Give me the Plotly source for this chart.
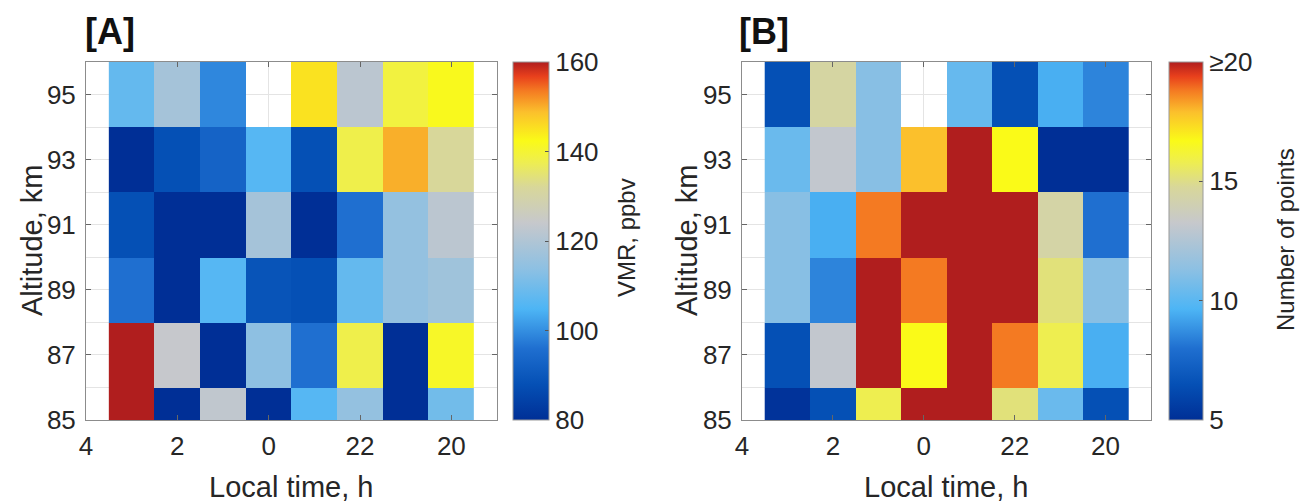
import plotly.graph_objects as go

# ---- data ----
local_time = [3, 2, 1, 0, 23, 22, 21, 20]          # hour of each column (left -> right)
altitude = [85, 87, 89, 91, 93, 95]                 # km, row centres (bottom -> top)

# Panel A: VMR, ppbv  (rows bottom -> top, columns as local_time)
vmr = [
    [160, 80, 123, 80, 106, 115, 80, 110],
    [160, 124, 80, 114, 96, 138, 80, 141],
    [96, 80, 106, 89, 88, 108, 115, 117],
    [88, 80, 80, 118, 80, 96, 115, 122],
    [80, 88, 93, 106, 88, 138, 150, 132],
    [108, 118, 99, None, 145, 122, 139, 142],
]

# Panel B: number of points
npts = [
    [5.2, 6.5, 15.8, 20, 20, 15.2, 10.4, 6.5],
    [6.5, 13.1, 20, 16.7, 20, 18.8, 15.8, 9.5],
    [11.2, 8.5, 20, 18.8, 20, 20, 15.2, 11.2],
    [11.2, 9.5, 18.8, 20, 20, 20, 14.4, 8.0],
    [10.4, 13.1, 11.2, 17.9, 20, 16.7, 5, 5],
    [6.5, 14.5, 11.2, None, 10.3, 6.5, 9.5, 8.5],
]

xtick_hours = [4, 2, 0, 22, 20]
ytick_vals = [85, 87, 89, 91, 93, 95]
vmr_ticks = [80, 100, 120, 140, 160]
npts_ticks = [5, 10, 15, 20]
npts_ticktext = ["5", "10", "15", "\u226520"]

# continuous time axis (after-midnight hours shifted by 24)
def cont(h):
    return h + 24 if h < 12 else h

xc = [cont(h) for h in local_time]
xtv = [cont(h) for h in xtick_hours]

cscale = [
    [0.00, "#002f96"],
    [0.10, "#0550b5"],
    [0.20, "#1f6fd0"],
    [0.31, "#4db5f5"],
    [0.42, "#8cc0e3"],
    [0.55, "#c6c8cc"],
    [0.65, "#d8d79a"],
    [0.72, "#eeee50"],
    [0.78, "#fafa18"],
    [0.86, "#fbc02c"],
    [0.92, "#f47a22"],
    [0.96, "#e8401c"],
    [1.00, "#b01e1e"],
]

W, H = 1310, 504
FONT = "Arial, Liberation Sans, Helvetica, sans-serif"
TXT = "#262626"
TICK = 26
TITLE = 29
CBTITLE = 24

def px(xp):
    return xp / W

def py(yp):
    return 1 - yp / H

top, bot = 62, 420
ydom = [py(bot), py(top)]
lenfrac = (bot - top) / H

fig = go.Figure()

fig.add_trace(go.Heatmap(
    x=xc, y=altitude, z=vmr, zmin=80, zmax=160, colorscale=cscale,
    xaxis="x", yaxis="y", hoverongaps=False,
    colorbar=dict(
        x=px(513), xanchor="left", xref="paper", xpad=0, ypad=0,
        thickness=36, thicknessmode="pixels",
        len=lenfrac, lenmode="fraction", y=ydom[0], yanchor="bottom",
        outlinecolor="#9a9a9a", outlinewidth=1,
        tickvals=vmr_ticks, ticks="inside", ticklen=4, tickcolor="#555555",
        tickfont=dict(family=FONT, size=TICK, color=TXT),
    ),
))

fig.add_trace(go.Heatmap(
    x=xc, y=altitude, z=npts, zmin=5, zmax=20, colorscale=cscale,
    xaxis="x2", yaxis="y2", hoverongaps=False,
    colorbar=dict(
        x=px(1169), xanchor="left", xref="paper", xpad=0, ypad=0,
        thickness=34, thicknessmode="pixels",
        len=lenfrac, lenmode="fraction", y=ydom[0], yanchor="bottom",
        outlinecolor="#9a9a9a", outlinewidth=1,
        tickvals=npts_ticks, ticktext=npts_ticktext, ticks="inside", ticklen=4,
        tickcolor="#555555",
        tickfont=dict(family=FONT, size=TICK, color=TXT),
    ),
))

def xaxis_def(dom):
    return dict(
        domain=dom, range=[28, 19], tickvals=xtv, ticktext=[str(h) for h in xtick_hours],
        showgrid=True, gridcolor="#e4e4e4", gridwidth=1,
        ticks="inside", ticklen=5, tickcolor="#666666",
        showline=True, linecolor="#8c8c8c", linewidth=1, mirror="ticks",
        ticklabelstandoff=3,
        tickfont=dict(family=FONT, size=TICK, color=TXT), zeroline=False,
    )

def yaxis_def(anchor):
    return dict(
        domain=ydom, range=[85, 96], tickvals=ytick_vals, anchor=anchor,
        showgrid=True, gridcolor="#e4e4e4", gridwidth=1,
        minor=dict(dtick=1, tick0=85, showgrid=True, gridcolor="#e4e4e4", ticks=""),
        ticks="inside", ticklen=5, tickcolor="#666666",
        showline=True, linecolor="#8c8c8c", linewidth=1, mirror="ticks",
        ticklabelstandoff=4,
        tickfont=dict(family=FONT, size=TICK, color=TXT), zeroline=False,
    )

xa = xaxis_def([px(86), px(497)])
xa["anchor"] = "y"
xb = xaxis_def([px(742), px(1151)])
xb["anchor"] = "y2"

annotations = [
    dict(text="<b>[A]</b>", x=px(83), y=py(31), xref="paper", yref="paper",
         xanchor="left", yanchor="middle", showarrow=False,
         font=dict(family=FONT, size=36, color="#111111")),
    dict(text="<b>[B]</b>", x=px(737), y=py(31), xref="paper", yref="paper",
         xanchor="left", yanchor="middle", showarrow=False,
         font=dict(family=FONT, size=36, color="#111111")),
    dict(text="Altitude, km", x=px(32), y=py(240), xref="paper", yref="paper",
         textangle=-90, showarrow=False, xanchor="center", yanchor="middle",
         font=dict(family=FONT, size=TITLE, color=TXT)),
    dict(text="Altitude, km", x=px(687), y=py(240), xref="paper", yref="paper",
         textangle=-90, showarrow=False, xanchor="center", yanchor="middle",
         font=dict(family=FONT, size=TITLE, color=TXT)),
    dict(text="Local time, h", x=px(291), y=py(487), xref="paper", yref="paper",
         showarrow=False, xanchor="center", yanchor="middle",
         font=dict(family=FONT, size=TITLE, color=TXT)),
    dict(text="Local time, h", x=px(946), y=py(487), xref="paper", yref="paper",
         showarrow=False, xanchor="center", yanchor="middle",
         font=dict(family=FONT, size=TITLE, color=TXT)),
    dict(text="VMR, ppbv", x=px(626), y=py(238), xref="paper", yref="paper",
         textangle=-90, showarrow=False, xanchor="center", yanchor="middle",
         font=dict(family=FONT, size=CBTITLE, color=TXT)),
    dict(text="Number of points", x=px(1285), y=py(240), xref="paper", yref="paper",
         textangle=-90, showarrow=False, xanchor="center", yanchor="middle",
         font=dict(family=FONT, size=CBTITLE, color=TXT)),
]

fig.update_layout(
    width=W, height=H,
    margin=dict(l=0, r=0, t=0, b=0, autoexpand=False),
    paper_bgcolor="white", plot_bgcolor="white",
    xaxis=xa, yaxis=yaxis_def("x"),
    xaxis2=xb, yaxis2=yaxis_def("x2"),
    annotations=annotations,
    font=dict(family=FONT, color=TXT),
)

fig.write_html(
    "out.html",
    config={"displayModeBar": False},
    post_script="document.body.style.margin='0';document.body.style.padding='0';"
                "document.body.style.overflow='hidden';",
)
